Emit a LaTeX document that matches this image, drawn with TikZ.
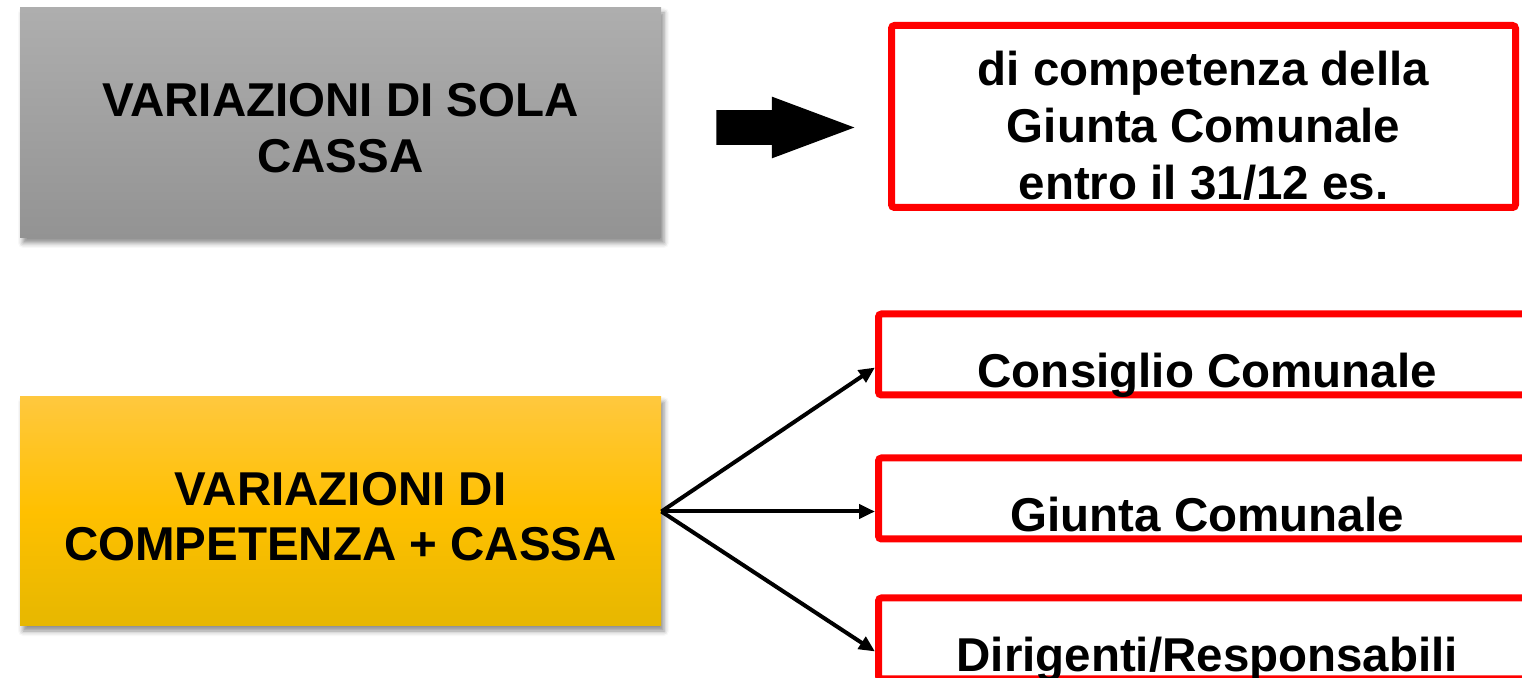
\documentclass[tikz,border=0pt]{standalone}
\usepackage{fontspec}
\setmainfont{Liberation Sans}
\usetikzlibrary{arrows.meta,shapes.arrows,shadows.blur}

\definecolor{grigiosu}{HTML}{AEAEAE}
\definecolor{grigiogiu}{HTML}{939393}
\definecolor{giallosu}{HTML}{FFC83E}
\definecolor{giallo}{HTML}{FFC000}
\definecolor{giallogiu}{HTML}{E6B700}

\begin{document}
\begin{tikzpicture}[
  x=0.5pt, y=-0.5pt,
  font=\fontsize{23.75}{28}\selectfont\bfseries,
  varbox/.style={rectangle, minimum width=320.5pt, align=center, inner sep=0pt, text depth=0pt,
    blur shadow={shadow xshift=1.5pt, shadow yshift=-2.5pt, shadow blur radius=2.5pt, shadow opacity=45}},
  organo/.style={draw=red, line width=3.5pt, inner sep=0pt, rounded corners=1.5pt},
  breve/.style={organo, minimum width=328.75pt, minimum height=40.5pt, text height=33.5pt, text depth=0pt},
  verso/.style={-{Triangle[length=8pt,width=7pt]}, line width=2pt}
]
\clip (0,0) rectangle (1522,678);

\node [varbox, minimum height=115pt, text height=50pt, top color=grigiosu, bottom color=grigiogiu] (sola) at (340.5,123) {VARIAZIONI DI SOLA\\CASSA};
\node [varbox, minimum height=114.5pt, text height=49.5pt, top color=giallosu, bottom color=giallogiu, middle color=giallo] (comp) at (340.5,511.5) {VARIAZIONI DI\\COMPETENZA + CASSA};

\node [single arrow, fill=black, anchor=tail, inner xsep=0pt, inner ysep=8.5pt, minimum height=69pt,
  single arrow head extend=6.75pt, single arrow tip angle=41, single arrow head indent=0pt] (freccia) at (716,127.5) {};

\node [organo, minimum width=312pt, minimum height=91pt, align=center, text height=83.5pt, text depth=0pt,
  font=\fontsize{23.75}{28.5}\selectfont\bfseries] (entro) at (1203.5,116.5) {di competenza della\\Giunta Comunale\\entro il 31/12 es.};

\node [breve] (cons) at (1207.25,354.5) {Consiglio Comunale};
\node [breve] (giunta) at (1207.25,498.5) {Giunta Comunale};
\node [breve] (dirig) at (1207.25,638.5) {Dirigenti/Responsabili};

\draw [verso] (comp.east) -- ([yshift=-6.5pt]cons.west);
\draw [verso] (comp.east) -- ([yshift=-6.5pt]giunta.west);
\draw [verso] (comp.east) -- ([yshift=-6.5pt]dirig.west);
\end{tikzpicture}
\end{document}
